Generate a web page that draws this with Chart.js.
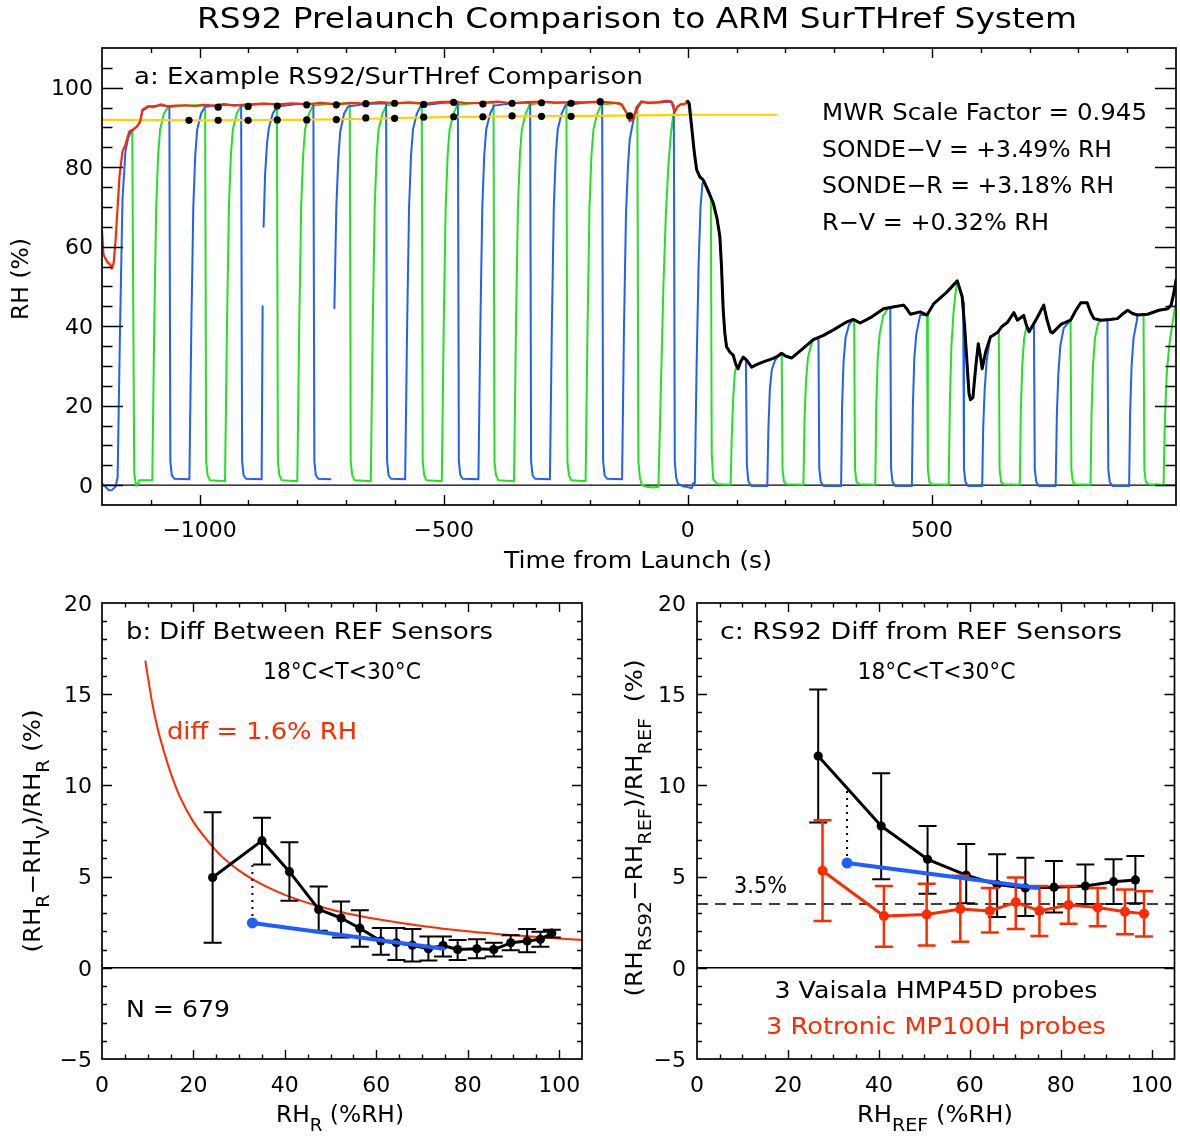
<!DOCTYPE html>
<html>
<head>
<meta charset="utf-8">
<title>RS92 Prelaunch Comparison to ARM SurTHref System</title>
<script src="https://cdn.jsdelivr.net/npm/chart.js@4.4.0/dist/chart.umd.min.js"></script>
<style>
  html, body { margin: 0; padding: 0; background: #fff; }
  #wrap { position: relative; width: 1180px; height: 1137px; overflow: hidden; }
  .panel { position: absolute; }
</style>
</head>
<body>
<div id="wrap">
  <div class="panel" style="left:0;top:0;width:1180px;height:590px"><canvas id="chartA"></canvas></div>
  <div class="panel" style="left:0;top:590px;width:590px;height:547px"><canvas id="chartB"></canvas></div>
  <div class="panel" style="left:590px;top:590px;width:590px;height:547px"><canvas id="chartC"></canvas></div>
</div>
<script>
// ---------- panel a: time series (time from launch in s, RH in %) ----------

// SurTHref reference (red)
const refTrace = [
  [-1200, 64], [-1197, 58], [-1193, 57], [-1188, 56], [-1183, 55.5], [-1180, 54.5], [-1176, 56],
  [-1172, 62], [-1168, 70], [-1164, 78], [-1158, 84], [-1152, 85.7], [-1144, 89], [-1136, 89.5],
  [-1128, 90.3], [-1122, 91.5], [-1117, 94.5], [-1105, 95.4], [-1095, 95.1], [-1080, 95.8],
  [-1065, 95.3], [-1050, 95.5], [-1030, 95.6], [-1010, 95.4], [-990, 95.7], [-970, 95.5],
  [-950, 95.9], [-930, 95.5], [-900, 95.8], [-870, 96], [-840, 95.8], [-810, 96.1], [-780, 95.9],
  [-750, 96.2], [-720, 95.8], [-690, 96.2], [-660, 96], [-630, 96.4], [-600, 96.1], [-570, 96.3],
  [-540, 96], [-510, 96.4], [-480, 96.5], [-450, 96.1], [-420, 96.2], [-390, 96.5], [-360, 96.1],
  [-330, 96.4], [-300, 96.5], [-270, 96.2], [-240, 96.4], [-210, 96.3], [-180, 96.5], [-150, 96.2],
  [-135, 95.8], [-125, 93.6], [-119, 91.6], [-112, 92.1], [-105, 95.1], [-95, 96.6], [-80, 96.1],
  [-60, 96.4], [-45, 96.7], [-34, 96.6], [-30, 95.1], [-27, 93.9], [-22, 95.1], [-15, 95.8],
  [-6, 95.9], [-2, 96.6], [1, 96.4]
];

// RS92 sonde after launch (black)
const sondeTrace = [
  [0, 96.6], [3, 96], [8, 90], [13, 84], [18, 79.4], [25, 77.5], [31.5, 76.8], [40, 74.5], [52, 71],
  [60, 67], [65.7, 62.5], [69, 55], [72.5, 44], [76, 38], [79.4, 34.8], [86, 33.5], [93, 32.7],
  [98, 30.5], [103, 29.3], [108, 31], [113.5, 32.2], [120, 31.5], [130.8, 29.7], [142, 30.4],
  [154.6, 31], [175, 31.9], [185, 32.5], [192, 33.2], [200, 32.5], [213, 32], [235, 34.3],
  [257, 36.6], [278, 37.7], [300, 39.2], [326, 41.1], [339, 41.7], [353, 40.8], [375, 42.2],
  [401, 44.4], [420, 44.8], [442, 45.3], [449, 44.3], [456, 43], [476, 43.6], [490, 42.8],
  [504, 45.7], [530, 48.5], [552, 51.4], [562, 47.4], [567, 40], [572, 30.6], [576, 23], [579, 21.5],
  [584, 22], [590, 30], [595, 35.6], [600, 32], [603, 29.3], [610, 33.5], [620, 37.3], [635, 38.5],
  [644, 40], [655, 41], [668, 43.4], [675, 41.5], [688, 42.7], [693, 40.5], [699, 38.6], [715, 42],
  [729, 45.3], [736, 41.5], [743, 38.6], [747, 38.3], [765, 40.5], [784, 41.5], [795, 44],
  [805, 45.9], [818, 45.9], [825, 43.5], [832, 41.9], [846, 41.5], [865, 41.7], [880, 41.9],
  [890, 43], [901, 44], [911, 43.2], [921, 42.8], [942, 43], [965, 44], [983, 44.4], [990, 45.3],
  [995, 48], [1000, 51.6]
];

// MWR-scaled value (yellow)
const mwrTrace = [
  [-1200, 91.9], [-1000, 91.8], [-800, 91.9], [-650, 92.2], [-500, 92.6], [-350, 92.8],
  [-200, 92.9], [-50, 93.1], [0, 93.2], [100, 93.2], [182, 93.2]
];

// sensor cycling, blue channel (null = data gap)
const blueTrace = [
  [-1200, 0.4], [-1192, -0.5], [-1186, -1.3], [-1179, -1.2], [-1172, -0.3],
  [-1168, 2], [-1163, 40], [-1158, 72], [-1152, 84], [-1146, 87.5], [-1140, 89], [-1130, 90],
  [-1122, 91.3], [-1117, 94.2], [-1105, 95.2], [-1080, 95.6], [-1062, 95.3],
  [-1060, 6], [-1057, 2.5], [-1052, 1.6], [-1021, 1.5],
  [-1017, 40], [-1013, 70], [-1009, 83], [-1005, 89.5], [-997, 93.5], [-989, 95.2], [-950, 95.7], [-915, 95.6],
  [-913, 6], [-910, 2.5], [-905, 1.6], [-873, 1.5],
  [-871, 45], [-870, null], [-869, 65], [-866, 78], [-862, 86], [-858, 90], [-850, 93.6], [-841, 95.3],
  [-800, 95.9], [-767, 95.9],
  [-765, 6], [-762, 2.5], [-757, 1.6], [-732, 1.5], [-728, null],
  [-724, 44.5], [-720, 70], [-716, 82], [-712, 89], [-704, 93.5], [-696, 95.3], [-660, 95.9], [-618, 96.1],
  [-616, 6], [-613, 2.5], [-608, 1.6], [-579, 1.5],
  [-575, 40], [-571, 70], [-567, 83], [-563, 89.5], [-555, 93.5], [-547, 95.5], [-500, 96.2], [-471, 96.3],
  [-469, 6], [-466, 2.5], [-461, 1.6], [-429, 1.5],
  [-425, 40], [-421, 70], [-417, 83], [-413, 89.5], [-405, 93.5], [-397, 95.5], [-360, 96.1], [-323, 96.3],
  [-321, 6], [-318, 2.5], [-313, 1.6], [-282.5, 1.5],
  [-278.5, 40], [-274.5, 70], [-270.5, 83], [-266.5, 89.5], [-258.5, 93.5], [-250.5, 95.6], [-210, 96.3], [-175.5, 96.4],
  [-173.5, 6], [-170.5, 2.5], [-165.5, 1.6], [-134.7, 1.5],
  [-130.7, 40], [-126.7, 68], [-122.7, 80], [-119, 87], [-112, 91.5], [-105, 94.5], [-95, 96.3],
  [-60, 96.3], [-34, 96.5], [-28.7, 95.5],
  [-26.7, 6], [-24, 2], [-20, 0.3], [-10, -0.3], [0, -0.5], [8, -0.8], [11, 0.5], [14.4, 0.5],
  [18, 30], [22, 55], [26, 70], [30, 76], [35, 76.2], [42, 74.3], [52, 71], [60, 67], [65.7, 62.5],
  [69, 55], [72.5, 44], [76, 38], [79.4, 34.8], [86, 33.5], [93, 32.7], [98, 30.5], [103, 29.3],
  [108, 31], [113.5, 32.2], [119, 31.6],
  [121, 5], [124, 1], [130, -0.2], [162.8, -0.2],
  [165, 14], [168, 24], [172, 29], [178, 31.2], [185, 32.5], [192, 33.2], [200, 32.5], [213, 32],
  [235, 34.3], [257, 36.6], [267.6, 37.1],
  [269.3, 4], [272.3, 0.8], [278, -0.2], [314, -0.2],
  [316, 20], [319, 31], [323, 37], [330, 40.3], [339, 41.7], [353, 40.8], [375, 42.2], [401, 44.4], [414.7, 44.7],
  [416.4, 4], [419.4, 0.8], [425, -0.2], [459, -0.2],
  [461, 20], [464, 32], [468, 38], [476, 42.8], [490, 42.8], [504, 45.7], [530, 48.5], [552, 51.4],
  [562, 47.4], [564, 46],
  [565.7, 4], [568.7, 0.8], [574, -0.2], [603, -0.2],
  [605, 14], [608, 24], [612, 31], [616, 34.5], [620, 37.3], [635, 38.5], [644, 40], [655, 41],
  [668, 43.4], [675, 41.5], [688, 42.7], [693, 40.5], [699, 38.6], [709, 40.3],
  [710.7, 4], [713.7, 0.8], [719, -0.2], [753.5, -0.2],
  [756, 18], [759, 28], [763, 35], [770, 39.5], [784, 41.5], [795, 44], [805, 45.9], [818, 45.9],
  [825, 43.5], [832, 41.9], [846, 41.5], [859.6, 41.6],
  [861.3, 4], [864.3, 0.8], [870, -0.2], [904, -0.2],
  [906, 18], [909, 30], [913, 37], [920, 41.5], [921, 42.8], [942, 43], [965, 44], [983, 44.4],
  [990, 45.3], [995, 48], [1000, 51.6]
];

// sensor cycling, green channel
const greenTrace = [
  [-1150, 86.5], [-1142, 89], [-1138, 89.3],
  [-1134, 3], [-1130, -0.2], [-1127, 0.2], [-1124, 1.2], [-1097, 1.2],
  [-1093, 40], [-1089, 70], [-1085, 83], [-1081, 89.5], [-1073, 93.5], [-1065, 95.1], [-1030, 95.5], [-988.7, 95.6],
  [-986.7, 6], [-983.7, 2.5], [-978.7, 1.2], [-948, 1.0],
  [-944, 40], [-940, 70], [-936, 83], [-932, 89.5], [-924, 93.5], [-916, 95.3], [-870, 96], [-841.7, 95.9],
  [-839.7, 6], [-836.7, 2.5], [-831.7, 1.2], [-800, 1.0],
  [-796, 40], [-792, 70], [-788, 83], [-784, 89.5], [-776, 93.5], [-768, 95.5], [-730, 96], [-692.5, 96.1],
  [-690.5, 6], [-687.5, 2.5], [-682.5, 1.2], [-649.4, 1.0],
  [-645.4, 40], [-641.4, 70], [-637.4, 83], [-633.4, 89.5], [-625.4, 93.5], [-617.4, 95.6], [-580, 96.2], [-545, 96],
  [-543, 6], [-540, 2.5], [-535, 1.2], [-504, 1.0],
  [-500, 40], [-496, 70], [-492, 83], [-488, 89.5], [-480, 93.5], [-472, 95.7], [-430, 96.2], [-398, 96.3],
  [-396, 6], [-393, 2.5], [-388, 1.2], [-356, 1.0],
  [-352, 40], [-348, 70], [-344, 83], [-340, 89.5], [-332, 93.5], [-324, 95.8], [-290, 96.4], [-248.6, 96.3],
  [-246.6, 6], [-243.6, 2.5], [-238.6, 1.2], [-209.4, 1.0],
  [-205.4, 40], [-201.4, 70], [-197.4, 83], [-193.4, 89.5], [-185.4, 93.5], [-177.4, 95.8], [-140, 96.2],
  [-125, 93.6], [-119, 91.6], [-112, 92.1], [-105, 95], [-103.3, 95],
  [-101.3, 6], [-98.3, 2], [-94, 0], [-85, -0.4], [-70, -0.6], [-60.2, -0.4],
  [-55, 25], [-50, 50], [-45, 68], [-40, 80], [-35, 88], [-30, 93], [-25, 94.5], [-20, 95.3],
  [-15, 95.8], [-6, 95.9], [0, 96.4], [8, 90], [13, 84], [18, 79.4], [25, 77.5], [31.5, 76.8],
  [40, 74.5], [47.2, 72.5],
  [49, 8], [52, 1.5], [60, 0.3], [70, 0.2], [87.6, 0.1],
  [90, 12], [93, 22], [96.5, 28.5], [100, 30], [103, 29.3], [108, 31], [113.5, 32.2], [120, 31.5],
  [130.8, 29.7], [142, 30.4], [154.6, 31], [175, 31.9], [185, 32.5], [192.3, 33.1],
  [194, 4], [197, 0.8], [203, 0.2], [236.8, 0.1],
  [239, 16], [242, 26], [246, 32], [252, 35], [257, 36.6], [278, 37.7], [300, 39.2], [326, 41.1],
  [339, 41.7], [340.8, 41.5],
  [342.5, 4], [345.5, 0.8], [351, 0.2], [384, 0.1],
  [386, 20], [389, 32], [393, 38], [400, 42.5], [410, 44.5], [420, 44.8], [442, 45.3], [449, 44.3],
  [456, 43], [476, 43.6], [490, 42.8],
  [491.7, 4], [494.7, 0.8], [500, 0.2], [534.4, 0.1],
  [537, 22], [540, 35], [544, 43], [548, 48], [552, 51.4], [562, 47.4], [567, 40], [572, 30.6],
  [576, 23], [579, 21.5], [584, 22], [590, 30], [595, 35.6], [600, 32], [603, 29.3], [610, 33.5],
  [620, 37.3], [635, 38.5], [637, 38.8],
  [638.7, 4], [641.7, 0.8], [647, 0.2], [680, 0.1],
  [682, 18], [685, 30], [689, 37], [693, 39.5], [699, 38.6], [715, 42], [729, 45.3], [736, 41.5],
  [743, 38.6], [747, 38.3], [765, 40.5], [784, 41.5],
  [785.7, 4], [788.7, 0.8], [794, 0.2], [825, 0.1],
  [827, 18], [830, 30], [834, 37], [840, 40.5], [846, 41.5], [865, 41.7], [880, 41.9], [890, 43],
  [901, 44], [911, 43.2], [921, 42.8], [933.5, 42.9],
  [935.2, 4], [938.2, 0.8], [944, 0.2], [974.5, 0.1],
  [977, 15], [981, 28], [986, 35], [992, 40], [997, 44], [1000, 46]
];

// comparison points (black dots): upper row on reference, lower row on MWR line
const dotUpperT = [-962, -900.6, -841, -780.6, -720, -659.6, -600.7, -541, -479.6, -419.8, -360, -299.7, -239.2, -179.4];
const dotUpperRH = [95.1, 95.3, 95.4, 95.7, 95.7, 96.0, 96.1, 95.8, 96.3, 95.9, 96.1, 96.2, 96.1, 96.5];
const dotLowerT = [-1021.8, -962, -900.6, -841, -780.6, -720, -659.6, -600.7, -541, -479.6, -419.8, -360, -299.7, -239.2, -119];
const dotLowerRH = [91.8, 91.8, 91.8, 91.9, 91.9, 92.0, 92.4, 92.3, 92.6, 92.7, 92.7, 92.9, 92.8, 92.8, 92.9];

const timeTicks = [-1000, -500, 0, 500];
const timeTickLabels = ["\u22121000", "\u2212500", "0", "500"];
const rhTicks = [0, 20, 40, 60, 80, 100];
const rhTickLabels = ["0", "20", "40", "60", "80", "100"];

// ---------- panel b: difference between reference sensors ----------
const rhR = [24.2, 35.0, 41.0, 47.4, 52.3, 56.4, 61.0, 64.4, 67.9, 71.4, 74.6, 77.8, 82.0, 85.7, 89.4, 93.0, 95.9, 98.4];
const diffRV = [4.95, 6.97, 5.27, 3.2, 2.73, 2.17, 1.47, 1.37, 1.24, 1.04, 1.22, 1.0, 1.04, 1.0, 1.37, 1.47, 1.56, 1.9];
const diffRVLow = [1.37, 5.67, 3.67, 2.03, 1.66, 1.15, 0.72, 0.43, 0.34, 0.4, 0.62, 0.43, 0.53, 0.62, 0.96, 0.85, 1.15, 1.66];
const diffRVHigh = [8.53, 8.23, 6.89, 4.46, 3.63, 3.16, 2.18, 2.18, 2.13, 1.71, 1.71, 1.53, 1.56, 1.37, 1.79, 2.13, 1.98, 2.09];
// "diff = 1.6% RH" curve
const curveRH = [9.5, 10, 11, 12, 13.5, 15, 17, 20, 23, 26, 30, 35, 40, 45, 50, 55, 60, 70, 80, 90, 100, 105];
const curveDiff = [16.8, 16.0, 14.5, 13.3, 11.9, 10.7, 9.4, 8.0, 7.0, 6.15, 5.33, 4.57, 4.0, 3.56, 3.2, 2.91, 2.67, 2.29, 2.0, 1.78, 1.6, 1.52];
const blueFitB_RH = [32.9, 74.7];
const blueFitB = [2.46, 1.04];

// ---------- panel c: RS92 difference from reference sensors ----------
const rhRefV = [26.65, 40.5, 50.7, 59.2, 66.0, 72.2, 78.5, 85.4, 91.6, 96.4];
const diffV = [11.61, 7.77, 5.95, 5.08, 4.57, 4.38, 4.42, 4.48, 4.72, 4.82];
const diffVLow = [7.96, 4.85, 4.06, 3.54, 2.78, 2.84, 3.03, 3.5, 3.5, 3.54];
const diffVHigh = [15.26, 10.67, 7.77, 6.79, 6.23, 6.04, 5.85, 5.66, 5.95, 6.13];
const rhRefR = [27.6, 41.1, 50.5, 57.9, 64.4, 70.1, 75.3, 81.7, 88.1, 94.1, 98.3];
const diffR = [5.32, 2.84, 2.92, 3.22, 3.12, 3.59, 3.12, 3.44, 3.31, 3.07, 2.97];
const diffRLow = [2.56, 1.15, 1.22, 1.43, 1.94, 2.13, 1.75, 2.41, 2.28, 1.84, 1.71];
const diffRHigh = [8.09, 4.48, 4.61, 5.04, 4.38, 4.95, 4.48, 4.48, 4.38, 4.29, 4.2];
const blueFitC_RH = [33.0, 75.1];
const blueFitC = [5.74, 4.38];
const sondeBias = 3.5;

const pctTicks = [0, 20, 40, 60, 80, 100];
const pctTickLabels = ["0", "20", "40", "60", "80", "100"];
const diffTicks = [-5, 0, 5, 10, 15, 20];
const diffTickLabels = ["\u22125", "0", "5", "10", "15", "20"];

// ---------- drawing ----------
const FONT = '"DejaVu Sans", sans-serif';
const RED = "#ff2a00";
const BLUE = "#1f5fff";
const GREEN = "#22e022";
const YELLOW = "#ffd200";

function pts(pairs) {
  return pairs.map((p) => ({ x: p[0], y: p[1] }));
}

function zip(xs, ys) {
  return xs.map((x, i) => ({ x: x, y: ys[i] }));
}

function stretch(natural, target) {
  if (!target) return 1;
  return Math.min(1.35, Math.max(0.75, target / natural));
}

function drawText(ctx, t) {
  ctx.save();
  ctx.font = `${t.size}px ${FONT}`;
  ctx.fillStyle = t.color || "#000";
  ctx.textBaseline = "middle";
  ctx.textAlign = t.align || "left";
  const sx = stretch(ctx.measureText(t.text).width, t.w);
  ctx.translate(t.x, t.y);
  if (t.rot) ctx.rotate(-Math.PI / 2);
  ctx.scale(sx, 1);
  ctx.fillText(t.text, 0, 0);
  ctx.restore();
}

// text with subscripts, centred on (x, y)
function drawRich(ctx, t) {
  ctx.save();
  const subSize = Math.round(t.size * 0.8);
  const fontOf = (p) => `${p.sub ? subSize : t.size}px ${FONT}`;
  let natural = 0;
  const widths = t.parts.map((p) => {
    ctx.font = fontOf(p);
    const w = ctx.measureText(p.s).width;
    natural += w;
    return w;
  });
  const sx = stretch(natural, t.w);
  ctx.translate(t.x, t.y);
  if (t.rot) ctx.rotate(-Math.PI / 2);
  ctx.scale(sx, 1);
  ctx.fillStyle = "#000";
  ctx.textBaseline = "alphabetic";
  ctx.textAlign = "left";
  const base = t.size * 0.36;
  let cx = -natural / 2;
  t.parts.forEach((p, i) => {
    ctx.font = fontOf(p);
    ctx.fillText(p.s, cx, p.sub ? base + t.size * 0.36 : base);
    cx += widths[i];
  });
  ctx.restore();
}

// IDL-style frame: box, inward ticks on all sides, tick labels, annotations
function makeFrame(cfg) {
  return {
    id: "frame" + cfg.name,
    beforeDatasetsDraw(chart) {
      const { ctx, chartArea: a, scales: { y } } = chart;
      ctx.save();
      ctx.strokeStyle = "#000";
      ctx.lineWidth = 1.4;
      const y0 = y.getPixelForValue(0);
      ctx.beginPath();
      ctx.moveTo(a.left, y0);
      ctx.lineTo(a.right, y0);
      ctx.stroke();
      ctx.restore();
    },
    afterDraw(chart) {
      const { ctx, chartArea: a, scales: { x, y } } = chart;
      ctx.save();
      ctx.strokeStyle = "#000";
      ctx.lineWidth = 1.4;
      ctx.beginPath();
      for (let i = Math.floor(x.min / cfg.xMinor) + 1; i * cfg.xMinor < x.max; i++) {
        const v = i * cfg.xMinor;
        const len = v % cfg.xMajor === 0 ? cfg.xLen : cfg.xLen / 2;
        const px = Math.round(x.getPixelForValue(v)) + 0.5;
        ctx.moveTo(px, a.bottom);
        ctx.lineTo(px, a.bottom - len);
        ctx.moveTo(px, a.top);
        ctx.lineTo(px, a.top + len);
      }
      for (let i = Math.floor(y.min / cfg.yMinor) + 1; i * cfg.yMinor < y.max; i++) {
        const v = i * cfg.yMinor;
        const len = v % cfg.yMajor === 0 ? cfg.yLen : cfg.yLen / 2;
        const py = Math.round(y.getPixelForValue(v)) + 0.5;
        ctx.moveTo(a.left, py);
        ctx.lineTo(a.left + len, py);
        ctx.moveTo(a.right, py);
        ctx.lineTo(a.right - len, py);
      }
      ctx.stroke();
      ctx.lineWidth = 1.7;
      ctx.strokeRect(a.left, a.top, a.right - a.left, a.bottom - a.top);

      ctx.fillStyle = "#000";
      ctx.font = `${cfg.tickSize}px ${FONT}`;
      ctx.textBaseline = "middle";
      ctx.textAlign = "center";
      cfg.xTicks.forEach((v, i) => {
        ctx.fillText(cfg.xTickLabels[i], x.getPixelForValue(v), a.bottom + cfg.xGap);
      });
      ctx.textAlign = "right";
      cfg.yTicks.forEach((v, i) => {
        ctx.fillText(cfg.yTickLabels[i], a.left - cfg.yGap, y.getPixelForValue(v) + 2);
      });
      ctx.restore();
      cfg.texts.forEach((t) => (t.parts ? drawRich(ctx, t) : drawText(ctx, t)));
    },
  };
}

// error bars drawn just before the dataset that owns them
const errorBars = {
  id: "errorBars",
  beforeDatasetDraw(chart, args) {
    const ds = chart.data.datasets[args.index];
    if (!ds.errLow) return;
    const { ctx, scales: { x, y } } = chart;
    const cap = ds.errCap;
    ctx.save();
    ctx.strokeStyle = ds.borderColor;
    ctx.lineWidth = ds.errWidth;
    ctx.beginPath();
    ds.data.forEach((p, i) => {
      const px = x.getPixelForValue(p.x);
      const lo = y.getPixelForValue(ds.errLow[i]);
      const hi = y.getPixelForValue(ds.errHigh[i]);
      ctx.moveTo(px, lo);
      ctx.lineTo(px, hi);
      ctx.moveTo(px - cap, lo);
      ctx.lineTo(px + cap, lo);
      ctx.moveTo(px - cap, hi);
      ctx.lineTo(px + cap, hi);
    });
    ctx.stroke();
    ctx.restore();
  },
};

function baseOptions(padding, xr, yr) {
  return {
    responsive: true,
    maintainAspectRatio: false,
    animation: false,
    events: [],
    layout: { padding: padding },
    plugins: { legend: { display: false }, tooltip: { enabled: false } },
    elements: { line: { tension: 0, borderJoinStyle: "round", borderCapStyle: "round" } },
    scales: {
      x: { type: "linear", min: xr[0], max: xr[1], display: false },
      y: { type: "linear", min: yr[0], max: yr[1], display: false },
    },
  };
}

function lineSet(data, color, width, order, extra) {
  return Object.assign(
    { data: data, showLine: true, borderColor: color, backgroundColor: color, borderWidth: width, pointRadius: 0, order: order },
    extra || {}
  );
}

// panel a
const frameA = makeFrame({
  name: "A",
  xMinor: 100, xMajor: 500, yMinor: 5, yMajor: 20,
  xLen: 10, yLen: 21, tickSize: 22, xGap: 26, yGap: 9,
  xTicks: timeTicks, xTickLabels: timeTickLabels,
  yTicks: rhTicks, yTickLabels: rhTickLabels,
  texts: [
    { text: "RS92 Prelaunch Comparison to ARM SurTHref System", x: 637, y: 20, size: 29, align: "center", w: 880 },
    { text: "a: Example RS92/SurTHref Comparison", x: 134, y: 78, size: 23, w: 509 },
    { text: "MWR Scale Factor = 0.945", x: 822, y: 114, size: 23, w: 325 },
    { text: "SONDE\u2212V = +3.49% RH", x: 822, y: 151, size: 23, w: 290 },
    { text: "SONDE\u2212R = +3.18% RH", x: 822, y: 187, size: 23, w: 292 },
    { text: "R\u2212V = +0.32% RH", x: 822, y: 224, size: 23, w: 227 },
    { text: "Time from Launch (s)", x: 638, y: 562, size: 23, align: "center", w: 268 },
    { text: "RH (%)", x: 22, y: 279, size: 23, align: "center", rot: true, w: 82 },
  ],
});

new Chart(document.getElementById("chartA"), {
  type: "scatter",
  data: {
    datasets: [
      { data: zip(dotUpperT, dotUpperRH).concat(zip(dotLowerT, dotLowerRH)), pointRadius: 3.6, pointBorderWidth: 0, pointBackgroundColor: "#000", order: 0 },
      lineSet(pts(sondeTrace), "#000", 3, 1),
      lineSet(pts(refTrace), RED, 2.2, 2),
      lineSet(pts(mwrTrace), YELLOW, 2.2, 3),
      lineSet(pts(blueTrace), BLUE, 2, 4, { spanGaps: false }),
      lineSet(pts(greenTrace), GREEN, 2, 5),
    ],
  },
  options: baseOptions({ left: 102, top: 48, right: 3, bottom: 85 }, [-1200, 1000], [-5, 110]),
  plugins: [frameA],
});

// panel b
const frameB = makeFrame({
  name: "B",
  xMinor: 5, xMajor: 20, yMinor: 1, yMajor: 5,
  xLen: 9, yLen: 10, tickSize: 22, xGap: 27, yGap: 10,
  xTicks: pctTicks, xTickLabels: pctTickLabels,
  yTicks: diffTicks, yTickLabels: diffTickLabels,
  texts: [
    { text: "b: Diff Between REF Sensors", x: 126, y: 43, size: 23, w: 367 },
    { text: "18\u00b0C<T<30\u00b0C", x: 342, y: 83, size: 23, align: "center", w: 158 },
    { text: "diff = 1.6% RH", x: 167, y: 143, size: 23, color: RED, w: 190 },
    { text: "N = 679", x: 126, y: 421, size: 23, w: 104 },
    { parts: [{ s: "RH" }, { s: "R", sub: true }, { s: " (%RH)" }], x: 340, y: 524, size: 23, w: 128 },
    {
      parts: [{ s: "(RH" }, { s: "R", sub: true }, { s: "\u2212RH" }, { s: "V", sub: true }, { s: ")/RH" }, { s: "R", sub: true }, { s: " (%)" }],
      x: 32, y: 241, size: 23, rot: true, w: 243,
    },
  ],
});

new Chart(document.getElementById("chartB"), {
  type: "scatter",
  data: {
    datasets: [
      lineSet(zip(blueFitB_RH, blueFitB), BLUE, 4, 0, { pointRadius: [5.5, 0], pointBorderWidth: 0 }),
      lineSet(zip(rhR, diffRV), "#000", 3, 1, {
        pointRadius: 4.6, pointBorderWidth: 0,
        errLow: diffRVLow, errHigh: diffRVHigh, errCap: 9, errWidth: 2,
      }),
      lineSet(zip([blueFitB_RH[0], blueFitB_RH[0]], [blueFitB[0], diffRVLow[1]]), "#000", 2, 2, { borderDash: [2, 5], borderCapStyle: "butt" }),
      lineSet(zip(curveRH, curveDiff), RED, 2, 3, { cubicInterpolationMode: "monotone" }),
    ],
  },
  options: baseOptions({ left: 102, top: 13, right: 8, bottom: 78 }, [0, 105], [-5, 20]),
  plugins: [errorBars, frameB],
});

// panel c
const frameC = makeFrame({
  name: "C",
  xMinor: 5, xMajor: 20, yMinor: 1, yMajor: 5,
  xLen: 9, yLen: 10, tickSize: 22, xGap: 27, yGap: 11,
  xTicks: pctTicks, xTickLabels: pctTickLabels,
  yTicks: diffTicks, yTickLabels: diffTickLabels,
  texts: [
    { text: "c: RS92 Diff from REF Sensors", x: 130, y: 43, size: 23, w: 402 },
    { text: "18\u00b0C<T<30\u00b0C", x: 346.5, y: 83, size: 23, align: "center", w: 158 },
    { text: "3.5%", x: 144, y: 297, size: 23, w: 53 },
    { text: "3 Vaisala HMP45D probes", x: 346, y: 402, size: 23, align: "center", w: 323 },
    { text: "3 Rotronic MP100H probes", x: 346, y: 438, size: 23, align: "center", color: RED, w: 340 },
    { parts: [{ s: "RH" }, { s: "REF", sub: true }, { s: " (%RH)" }], x: 345, y: 524, size: 23, w: 156 },
    {
      parts: [{ s: "(RH" }, { s: "RS92", sub: true }, { s: "\u2212RH" }, { s: "REF", sub: true }, { s: ")/RH" }, { s: "REF", sub: true }, { s: "  (%)" }],
      x: 44, y: 238, size: 23, rot: true, w: 337,
    },
  ],
});

new Chart(document.getElementById("chartC"), {
  type: "scatter",
  data: {
    datasets: [
      lineSet(zip(blueFitC_RH, blueFitC), BLUE, 4, 0, { pointRadius: [5.5, 0], pointBorderWidth: 0 }),
      lineSet(zip([blueFitC_RH[0], blueFitC_RH[0]], [blueFitC[0], 9.85]), "#000", 2, 1, { borderDash: [2, 5], borderCapStyle: "butt" }),
      lineSet(zip(rhRefR, diffR), RED, 3, 2, {
        pointRadius: 5, pointBorderWidth: 0,
        errLow: diffRLow, errHigh: diffRHigh, errCap: 9, errWidth: 2.5,
      }),
      lineSet(zip(rhRefV, diffV), "#000", 3, 3, {
        pointRadius: 4.6, pointBorderWidth: 0,
        errLow: diffVLow, errHigh: diffVHigh, errCap: 9, errWidth: 2,
      }),
      lineSet(zip([0, 105], [sondeBias, sondeBias]), "#000", 1.5, 4, { borderDash: [11, 7], borderCapStyle: "butt" }),
    ],
  },
  options: baseOptions({ left: 107, top: 13, right: 4, bottom: 78 }, [0, 105], [-5, 20]),
  plugins: [errorBars, frameC],
});
</script>
</body>
</html>
